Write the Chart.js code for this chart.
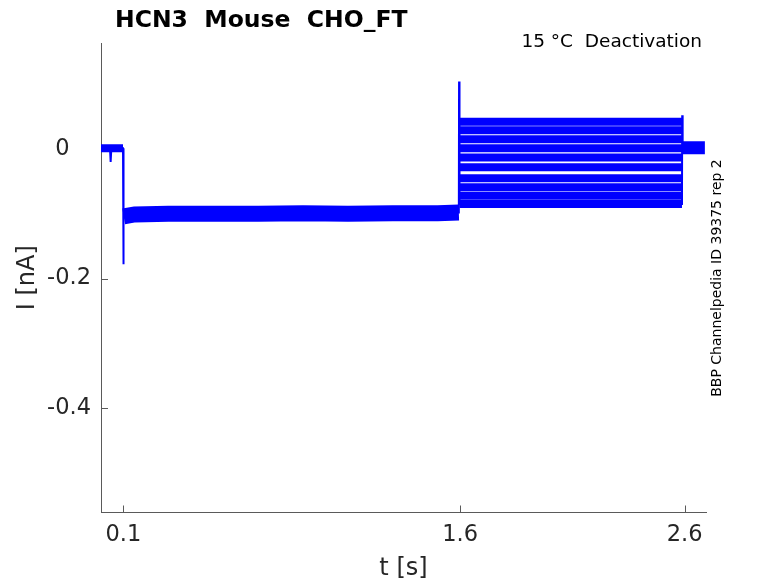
<!DOCTYPE html>
<html>
<head>
<meta charset="utf-8">
<script src="https://cdn.jsdelivr.net/npm/chart.js@4.4.1/dist/chart.umd.min.js"></script>
<style>
  html, body { margin: 0; padding: 0; background: #fff; }
</style>
</head>
<body>
<canvas id="trace-chart" width="778" height="583"></canvas>
<script>
// texts
var chartTitle = 'HCN3  Mouse  CHO_FT';
var conditionText = '15 \u00B0C  Deactivation';
var sourceText = 'BBP Channelpedia ID 39375 rep 2';

// values: times in s, currents in nA
var baseTimes = [0, 0.098];
var baseValues = [0.001, 0.001];

// holding step, all sweeps lie on top of each other here
var holdTimes = [0.101, 0.15, 0.3, 0.5, 0.7, 0.9, 1.1, 1.3, 1.5, 1.594];
var holdValues = [-0.104, -0.101, -0.100, -0.100, -0.100, -0.099, -0.100, -0.099, -0.099, -0.098];

// one level per sweep in the test step
var stepTimes = [1.597, 2.588];
var stepLevels = [0.042, 0.029, 0.015, 0.001, -0.013, -0.028, -0.045, -0.059, -0.072, -0.085];

var tailTimes = [2.591, 2.69];
var tailValues = [0.002, 0.002];

// fast transients: the small dip, capacitive spikes and step edges
var edgeTimes = [0, 0.040, 0.043, 0.046, 0.098, 0.099, 0.100, 0.102, 1.594, 1.595, 1.597, 2.588, 2.589, 2.591];
var edgeValues = [0.001, 0.001, -0.020, 0.001, 0.001, -0.100, -0.178, -0.105, -0.098, 0.104, -0.085, -0.085, 0.052, 0.002];

var xTicks = [0.1, 1.6, 2.6];
var yTicks = [0, -0.2, -0.4];

var axisColor = '#5a5a5a';
var textColor = '#262626';
var traceColor = 'rgb(0, 0, 255)';

function toPoints(xs, ys) {
    return xs.map(function (x, i) { return { x: x, y: ys[i] }; });
}

function trace(points, width) {
    return {
        data: points,
        borderColor: traceColor,
        backgroundColor: traceColor,
        borderWidth: width,
        borderCapStyle: 'butt',
        pointRadius: 0,
        fill: false,
        tension: 0
    };
}

var datasets = [];
datasets.push(trace(toPoints(edgeTimes, edgeValues), 2));
datasets.push(trace(toPoints(baseTimes, baseValues), 8));
datasets.push(trace(toPoints(holdTimes, holdValues), 16));
stepLevels.forEach(function (level) {
    datasets.push(trace(toPoints(stepTimes, stepTimes.map(function () { return level; })), 8));
});
datasets.push(trace(toPoints(tailTimes, tailValues), 13));

// ticks pointing into the plot, and the free texts
var decorPlugin = {
    id: 'decor',
    beforeDatasetsDraw: function (chart) {
        var c = chart.ctx, area = chart.chartArea;
        var xs = chart.scales.x, ys = chart.scales.y;
        c.save();
        c.strokeStyle = axisColor;
        c.lineWidth = 1;
        xTicks.forEach(function (v) {
            var px = Math.round(xs.getPixelForValue(v)) + 0.5;
            c.beginPath(); c.moveTo(px, area.bottom); c.lineTo(px, area.bottom - 7); c.stroke();
        });
        yTicks.forEach(function (v) {
            var py = Math.round(ys.getPixelForValue(v)) + 0.5;
            c.beginPath(); c.moveTo(area.left, py); c.lineTo(area.left + 7, py); c.stroke();
        });
        c.restore();
    },
    afterDraw: function (chart) {
        var c = chart.ctx;
        c.save();
        c.fillStyle = '#000';
        c.textBaseline = 'alphabetic';
        c.font = 'bold 23.5px "DejaVu Sans"';
        c.textAlign = 'left';
        c.fillText(chartTitle, 115, 26.5);
        c.font = '18.5px "DejaVu Sans"';
        c.textAlign = 'right';
        c.fillText(conditionText, 702, 46.5);
        c.font = '14px "DejaVu Sans"';
        c.textAlign = 'center';
        c.translate(720.5, 278);
        c.rotate(-Math.PI / 2);
        c.fillText(sourceText, 0, 0);
        c.restore();
    }
};

var config = {
    type: 'line',
    data: { datasets: datasets },
    options: {
        responsive: false,
        animation: false,
        layout: { padding: { top: 43, right: 72, left: 0, bottom: 0 } },
        plugins: {
            legend: { display: false },
            tooltip: { enabled: false },
            title: { display: false }
        },
        scales: {
            x: {
                type: 'linear',
                min: 0,
                max: 2.695,
                grid: { display: false, drawTicks: false },
                border: { display: true, color: axisColor, width: 1 },
                afterBuildTicks: function (s) { s.ticks = xTicks.map(function (v) { return { value: v }; }); },
                afterFit: function (s) { s.height = 70.5; },
                ticks: {
                    color: textColor,
                    padding: 9,
                    maxRotation: 0,
                    autoSkip: false,
                    font: { family: 'DejaVu Sans', size: 22.5 },
                    callback: function (v) { return String(v); }
                },
                title: {
                    display: true,
                    text: 't [s]',
                    color: textColor,
                    font: { family: 'DejaVu Sans', size: 24 },
                    padding: { top: 0, bottom: 0 }
                }
            },
            y: {
                type: 'linear',
                min: -0.561,
                max: 0.1636,
                grid: { display: false, drawTicks: false },
                border: { display: true, color: axisColor, width: 1 },
                afterBuildTicks: function (s) { s.ticks = yTicks.map(function (v) { return { value: v }; }); },
                afterFit: function (s) { s.width = 101; },
                ticks: {
                    color: textColor,
                    padding: 10,
                    autoSkip: false,
                    font: { family: 'DejaVu Sans', size: 22.5 },
                    // the zero label sits further left in the original
                    callback: function (v) { return v === 0 ? '0\u2007\u2008' : String(v); }
                },
                title: {
                    display: true,
                    text: 'I [nA]',
                    color: textColor,
                    font: { family: 'DejaVu Sans', size: 24 },
                    padding: { top: 13, bottom: 0 }
                }
            }
        }
    },
    plugins: [decorPlugin]
};

var myChart = new Chart(document.getElementById('trace-chart'), config);
</script>
</body>
</html>
